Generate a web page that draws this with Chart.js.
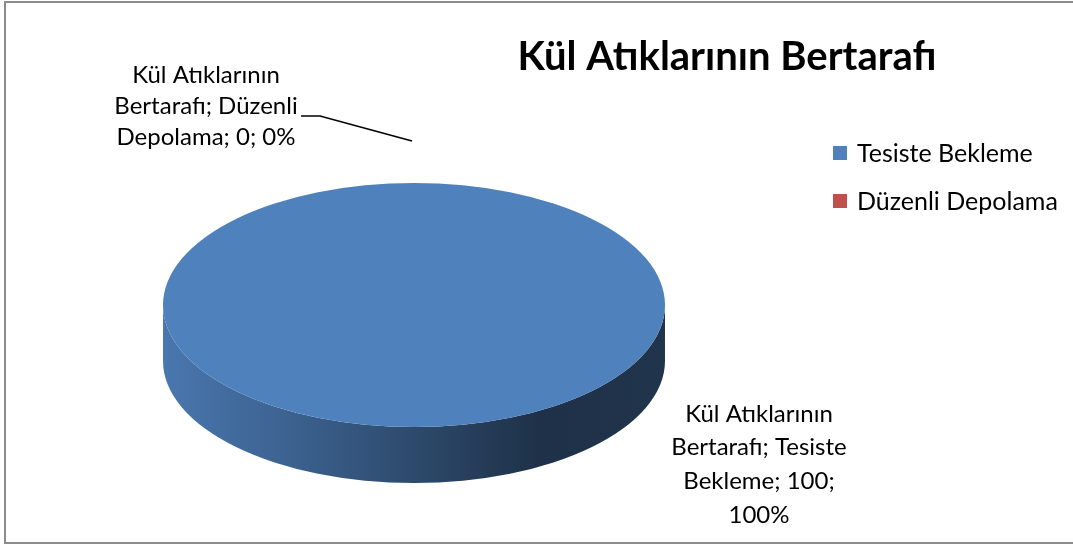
<!DOCTYPE html>
<html>
<head>
<meta charset="utf-8">
<script src="https://cdn.jsdelivr.net/npm/chart.js@4/dist/chart.umd.min.js"></script>
<style>
  html,body{margin:0;padding:0;background:#fff;}
  #wrap{position:relative;width:1073px;height:547px;overflow:hidden;}
  #frame{position:absolute;left:4px;top:1px;width:1080px;height:543px;border:2px solid #8C8C8C;box-sizing:border-box;}
  canvas{position:absolute;left:0;top:0;}
</style>
</head>
<body>
<div id="wrap">
  <div id="frame"></div>
  <canvas id="c" width="1073" height="547"></canvas>
</div>
<script>
/* 데이터 */
const SERIES_NAME = 'Kül Atıklarının Bertarafı';
const CATEGORIES = ['Tesiste Bekleme', 'Düzenli Depolama'];
const VALUES = [100, 0];
const COLORS = ['#4F81BD', '#C0504D'];

const FONT = "Lato, Carlito, Calibri, 'Open Sans', sans-serif";

/* 3D 파이 형태 (화면 좌표) */
const PIE = { cx: 414, cy: 305, rx: 251, ry: 122, depth: 56 };

function shade(hex, f){
  const n = parseInt(hex.slice(1), 16);
  const r = Math.round(((n >> 16) & 255) * f), g = Math.round(((n >> 8) & 255) * f), b = Math.round((n & 255) * f);
  return `rgb(${r},${g},${b})`;
}

/* ── 3D 옆면 + 타원 변환 ─────────────────────────────── */
const pie3d = {
  id: 'pie3d',
  beforeDatasetsDraw(chart){
    const { ctx } = chart;
    const meta = chart.getDatasetMeta(0);
    const a0 = meta.data[0];
    const r = a0.outerRadius;
    // 옆면 (앞쪽 반만 보임)
    meta.data.forEach((arc, i) => {
      const s = arc.startAngle, e = arc.endAngle;
      if(e - s <= 0) return;
      [-2*Math.PI, 0, 2*Math.PI].forEach(k => {
        const a = Math.max(s, k), b = Math.min(e, k + Math.PI);
        if(a >= b) return;
        const g = ctx.createLinearGradient(PIE.cx - PIE.rx, 0, PIE.cx + PIE.rx, 0);
        const base = COLORS[i];
        g.addColorStop(0, shade(base, 0.92));
        g.addColorStop(0.25, shade(base, 0.76));
        g.addColorStop(0.5, shade(base, 0.57));
        g.addColorStop(0.75, shade(base, 0.38));
        g.addColorStop(1, shade(base, 0.40));
        ctx.save();
        ctx.beginPath();
        ctx.ellipse(PIE.cx, PIE.cy, PIE.rx, PIE.ry, 0, a - k, b - k, false);
        ctx.ellipse(PIE.cx, PIE.cy + PIE.depth, PIE.rx, PIE.ry, 0, b - k, a - k, true);
        ctx.closePath();
        ctx.fillStyle = g;
        ctx.fill();
        ctx.restore();
      });
    });
    // 윗면: 라이브러리 원호를 타원으로 눌러서 그림
    ctx.save();
    ctx.translate(PIE.cx, PIE.cy);
    ctx.scale(PIE.rx / r, PIE.ry / r);
    ctx.translate(-a0.x, -a0.y);
  },
  afterDatasetsDraw(chart){
    chart.ctx.restore();
  },
  afterDraw(chart){
    const { ctx } = chart;
    const total = VALUES.reduce((s, v) => s + v, 0);
    const pct = v => Math.round(v / total * 100) + '%';
    ctx.save();
    ctx.fillStyle = '#000';
    ctx.textBaseline = 'middle';

    // 제목
    ctx.font = `bold 40px ${FONT}`;
    ctx.textAlign = 'center';
    ctx.fillText(SERIES_NAME, 727, 57);

    // 범례
    ctx.font = `25px ${FONT}`;
    ctx.textAlign = 'left';
    CATEGORIES.forEach((c, i) => {
      const y = 153 + i * 48;
      ctx.fillStyle = COLORS[i];
      ctx.fillRect(833, y - 7, 14, 14);
      ctx.fillStyle = '#000';
      ctx.fillText(c, 857, y + 1);
    });

    // 데이터 라벨
    ctx.font = `24px ${FONT}`;
    ctx.textAlign = 'center';
    const l1 = ['Kül Atıklarının', 'Bertarafı; Düzenli', `Depolama; ${VALUES[1]}; ${pct(VALUES[1])}`];
    l1.forEach((t, j) => ctx.fillText(t, 206, 75 + j * 31));
    const l0 = ['Kül Atıklarının', 'Bertarafı; Tesiste', `Bekleme; ${VALUES[0]};`, pct(VALUES[0])];
    l0.forEach((t, j) => ctx.fillText(t, 759, 414 + j * 33.7));

    // 지시선
    ctx.strokeStyle = '#000';
    ctx.lineWidth = 1.5;
    ctx.beginPath();
    ctx.moveTo(301, 116); ctx.lineTo(320, 116); ctx.lineTo(412, 141);
    ctx.stroke();
    ctx.restore();
  }
};

new Chart(document.getElementById('c'), {
  type: 'pie',
  data: {
    labels: CATEGORIES,
    datasets: [{
      label: SERIES_NAME,
      data: VALUES,
      backgroundColor: COLORS,
      borderWidth: 0,
      clip: false
    }]
  },
  plugins: [pie3d],
  options: {
    responsive: false,
    animation: false,
    events: [],
    layout: { padding: 0 },
    plugins: { legend: { display: false }, title: { display: false }, tooltip: { enabled: false } }
  }
});
</script>
</body>
</html>
